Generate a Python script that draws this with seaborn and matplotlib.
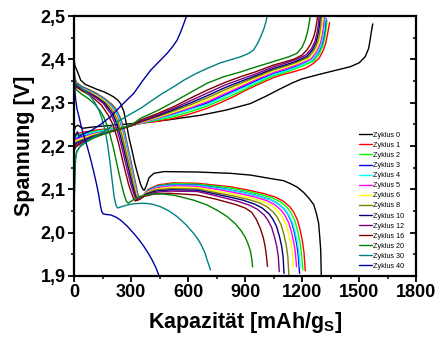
import numpy as np
import pandas as pd
import matplotlib
matplotlib.use("Agg")
import matplotlib.pyplot as plt
from matplotlib.ticker import MultipleLocator, FuncFormatter
import seaborn as sns

# ---------------- Zyklus 0 ----------------
ent_q_0 = [0, 5, 18, 35, 60, 88, 120, 158, 190, 210, 230, 245, 262, 276, 290, 305, 320, 335, 350, 362,
           370, 380, 395, 420, 473, 650, 823, 928, 1033, 1103, 1140, 1175, 1208, 1235, 1261, 1275, 1287,
           1293, 1298, 1301]
ent_u_0 = [2.40, 2.385, 2.372, 2.352, 2.342, 2.337, 2.331, 2.325, 2.318, 2.313, 2.306, 2.298, 2.28, 2.25,
           2.218, 2.19, 2.16, 2.135, 2.112, 2.1, 2.098, 2.108, 2.127, 2.137, 2.141, 2.14, 2.137, 2.133,
           2.125, 2.12, 2.113, 2.105, 2.093, 2.08, 2.065, 2.045, 2.022, 1.99, 1.96, 1.902]
lad_q_0 = [0, 8, 20, 45, 100, 150, 315, 490, 665, 800, 928, 1010, 1085, 1150, 1200, 1278, 1360, 1453,
           1500, 1532, 1550, 1558, 1565, 1572]
lad_u_0 = [2.235, 2.245, 2.248, 2.241, 2.244, 2.246, 2.252, 2.26, 2.271, 2.283, 2.298, 2.315, 2.332,
           2.346, 2.355, 2.364, 2.373, 2.383, 2.392, 2.406, 2.425, 2.445, 2.465, 2.482]

# ---------------- Zyklus 1 ----------------
ent_q_1 = [0, 3, 12, 40, 80, 120, 160, 200, 222, 247, 267, 282, 302, 322, 335, 345, 362, 390, 440, 520,
           648, 823, 920, 1000, 1060, 1100, 1135, 1155, 1175, 1190, 1202, 1210, 1217]
ent_u_1 = [2.395, 2.362, 2.347, 2.338, 2.330, 2.321, 2.310, 2.296, 2.285, 2.262, 2.232, 2.200, 2.160,
           2.118, 2.090, 2.078, 2.085, 2.100, 2.110, 2.115, 2.114, 2.106, 2.098, 2.090, 2.082, 2.073,
           2.060, 2.048, 2.030, 2.006, 1.980, 1.955, 1.912]
lad_q_1 = [0, 10, 50, 120, 200, 280, 350, 440, 525, 610, 700, 770, 840, 900, 963, 1050, 1100, 1160,
           1220, 1261, 1290, 1313, 1325, 1331, 1338, 1345]
lad_u_1 = [2.225, 2.228, 2.232, 2.237, 2.241, 2.245, 2.252, 2.257, 2.264, 2.274, 2.287, 2.3, 2.314,
           2.328, 2.341, 2.358, 2.365, 2.372, 2.38, 2.391, 2.403, 2.422, 2.438, 2.452, 2.468, 2.485]

# ---------------- Zyklus 2 ----------------
ent_q_2 = [0, 3, 12, 40, 80, 120, 160, 198, 220, 245, 265, 280, 300, 320, 333, 343, 360, 388, 438, 518,
           648, 810, 905, 985, 1045, 1087, 1122, 1142, 1162, 1177, 1189, 1197, 1204]
ent_u_2 = [2.39, 2.36, 2.345, 2.337, 2.329, 2.320, 2.309, 2.295, 2.284, 2.261, 2.231, 2.2, 2.16, 2.118,
           2.09, 2.078, 2.084, 2.098, 2.108, 2.113, 2.112, 2.104, 2.096, 2.088, 2.08, 2.071, 2.058,
           2.046, 2.028, 2.004, 1.978, 1.952, 1.914]
lad_q_2 = [0, 10, 45, 100, 170, 240, 280, 350, 440, 525, 610, 700, 790, 876, 960, 1050, 1110, 1170,
           1261, 1291, 1309, 1319, 1326, 1331]
lad_u_2 = [2.221, 2.224, 2.228, 2.233, 2.238, 2.242, 2.245, 2.252, 2.26, 2.268, 2.279, 2.292, 2.309,
           2.326, 2.344, 2.362, 2.37, 2.379, 2.396, 2.413, 2.43, 2.448, 2.468, 2.49]

# ---------------- Zyklus 3 ----------------
ent_q_3 = [0, 3, 12, 40, 80, 120, 160, 197, 219, 244, 264, 279, 299, 319, 332, 342, 359, 387, 437, 517,
           648, 795, 890, 970, 1030, 1070, 1105, 1125, 1145, 1160, 1172, 1180, 1187]
ent_u_3 = [2.385, 2.358, 2.344, 2.336, 2.328, 2.319, 2.308, 2.294, 2.283, 2.26, 2.23, 2.2, 2.16, 2.117,
           2.089, 2.077, 2.083, 2.097, 2.107, 2.111, 2.110, 2.101, 2.093, 2.085, 2.077, 2.068, 2.055,
           2.043, 2.025, 2.0, 1.974, 1.948, 1.906]
lad_q_3 = [0, 10, 45, 100, 170, 240, 280, 350, 440, 525, 610, 700, 790, 876, 960, 1050, 1110, 1170,
           1256, 1286, 1304, 1314, 1321, 1326]
lad_u_3 = [2.214, 2.218, 2.223, 2.23, 2.236, 2.241, 2.244, 2.253, 2.263, 2.274, 2.286, 2.299, 2.317,
           2.334, 2.351, 2.367, 2.375, 2.384, 2.399, 2.416, 2.434, 2.452, 2.472, 2.495]

# ---------------- Zyklus 4 ----------------
ent_q_4 = [0, 3, 12, 40, 80, 120, 160, 196, 218, 243, 263, 278, 298, 318, 331, 341, 358, 386, 436, 516,
           648, 797, 893, 973, 1033, 1073, 1108, 1128, 1148, 1163, 1175, 1183, 1190]
ent_u_4 = [2.38, 2.356, 2.343, 2.335, 2.327, 2.318, 2.307, 2.293, 2.282, 2.259, 2.229, 2.2, 2.16, 2.117,
           2.089, 2.077, 2.083, 2.096, 2.106, 2.110, 2.109, 2.100, 2.092, 2.084, 2.076, 2.067, 2.054,
           2.042, 2.025, 2.002, 1.978, 1.955, 1.92]
lad_q_4 = [0, 10, 45, 100, 170, 240, 280, 350, 440, 525, 610, 700, 790, 876, 960, 1050, 1110, 1170,
           1252, 1282, 1300, 1310, 1317, 1322]
lad_u_4 = [2.217, 2.221, 2.225, 2.231, 2.237, 2.242, 2.245, 2.253, 2.262, 2.272, 2.284, 2.296, 2.314,
           2.331, 2.348, 2.365, 2.373, 2.382, 2.398, 2.415, 2.433, 2.451, 2.471, 2.495]

# ---------------- Zyklus 5 ----------------
ent_q_5 = [0, 3, 12, 40, 80, 120, 160, 192, 214, 238, 258, 273, 294, 316, 330, 340, 357, 385, 435, 515,
           648, 780, 875, 955, 1015, 1055, 1090, 1110, 1130, 1145, 1157, 1165, 1171]
ent_u_5 = [2.38, 2.355, 2.342, 2.334, 2.326, 2.317, 2.305, 2.292, 2.28, 2.257, 2.228, 2.2, 2.16, 2.116,
           2.088, 2.077, 2.082, 2.095, 2.104, 2.108, 2.107, 2.098, 2.09, 2.082, 2.074, 2.065, 2.052,
           2.04, 2.023, 2.0, 1.976, 1.953, 1.921]
lad_q_5 = [0, 10, 45, 100, 170, 240, 280, 350, 440, 525, 610, 700, 790, 876, 960, 1050, 1110, 1170,
           1247, 1277, 1295, 1305, 1312, 1317]
lad_u_5 = [2.21, 2.215, 2.22, 2.228, 2.234, 2.241, 2.244, 2.253, 2.264, 2.276, 2.288, 2.302, 2.32,
           2.337, 2.354, 2.37, 2.378, 2.387, 2.401, 2.418, 2.436, 2.454, 2.474, 2.498]

# ---------------- Zyklus 6 ----------------
ent_q_6 = [0, 3, 12, 40, 80, 120, 160, 190, 212, 235, 255, 270, 291, 314, 328, 338, 355, 383, 433, 513,
           648, 765, 860, 940, 1000, 1040, 1075, 1095, 1115, 1130, 1142, 1150, 1155]
ent_u_6 = [2.38, 2.354, 2.341, 2.333, 2.325, 2.316, 2.304, 2.291, 2.279, 2.256, 2.227, 2.2, 2.16, 2.116,
           2.088, 2.076, 2.081, 2.093, 2.101, 2.105, 2.104, 2.095, 2.087, 2.079, 2.071, 2.062, 2.049,
           2.037, 2.02, 1.998, 1.975, 1.952, 1.92]
lad_q_6 = [0, 10, 45, 100, 170, 240, 280, 350, 440, 525, 610, 700, 790, 876, 960, 1050, 1110, 1170,
           1240, 1270, 1288, 1298, 1305, 1310]
lad_u_6 = [2.207, 2.212, 2.218, 2.226, 2.233, 2.24, 2.244, 2.254, 2.266, 2.278, 2.291, 2.306, 2.324,
           2.341, 2.357, 2.373, 2.381, 2.39, 2.403, 2.42, 2.437, 2.455, 2.475, 2.5]

# ---------------- Zyklus 8 ----------------
ent_q_8 = [0, 3, 12, 40, 80, 120, 160, 186, 208, 231, 251, 266, 288, 311, 326, 336, 353, 381, 431, 511,
           648, 740, 835, 915, 975, 1015, 1050, 1070, 1090, 1105, 1117, 1125, 1131]
ent_u_8 = [2.375, 2.352, 2.34, 2.332, 2.324, 2.314, 2.302, 2.29, 2.278, 2.255, 2.226, 2.2, 2.16, 2.115,
           2.087, 2.076, 2.08, 2.091, 2.099, 2.102, 2.101, 2.093, 2.085, 2.077, 2.069, 2.06, 2.047,
           2.035, 2.018, 1.995, 1.97, 1.945, 1.898]
lad_q_8 = [0, 10, 45, 100, 170, 240, 280, 350, 440, 525, 610, 700, 790, 876, 960, 1050, 1110, 1170,
           1233, 1263, 1281, 1291, 1298, 1303]
lad_u_8 = [2.203, 2.209, 2.215, 2.224, 2.232, 2.24, 2.244, 2.255, 2.268, 2.281, 2.295, 2.311, 2.329,
           2.345, 2.36, 2.376, 2.384, 2.393, 2.405, 2.421, 2.438, 2.456, 2.476, 2.5]

# ---------------- Zyklus 10 ----------------
ent_q_10 = [0, 3, 12, 40, 80, 120, 160, 180, 201, 223, 243, 258, 281, 305, 322, 333, 350, 378, 428, 508,
            648, 715, 810, 890, 950, 990, 1025, 1045, 1065, 1080, 1092, 1100, 1105]
ent_u_10 = [2.375, 2.35, 2.339, 2.331, 2.322, 2.312, 2.299, 2.288, 2.276, 2.254, 2.225, 2.2, 2.158,
            2.114, 2.086, 2.076, 2.079, 2.089, 2.096, 2.099, 2.098, 2.092, 2.083, 2.075, 2.066, 2.057,
            2.044, 2.032, 2.015, 1.993, 1.97, 1.945, 1.906]
lad_q_10 = [0, 10, 45, 100, 170, 240, 280, 350, 440, 525, 610, 700, 790, 876, 960, 1050, 1110, 1170,
            1226, 1256, 1274, 1284, 1291, 1296]
lad_u_10 = [2.2, 2.206, 2.213, 2.222, 2.231, 2.239, 2.244, 2.256, 2.27, 2.284, 2.299, 2.316, 2.334,
            2.349, 2.363, 2.379, 2.387, 2.396, 2.407, 2.423, 2.44, 2.458, 2.477, 2.5]

# ---------------- Zyklus 12 ----------------
ent_q_12 = [0, 3, 12, 40, 80, 120, 155, 172, 193, 215, 235, 250, 273, 298, 318, 330, 347, 375, 425, 505,
            648, 690, 785, 865, 925, 965, 1000, 1020, 1040, 1055, 1067, 1075, 1080]
ent_u_12 = [2.37, 2.348, 2.338, 2.33, 2.321, 2.31, 2.298, 2.287, 2.275, 2.253, 2.224, 2.2, 2.157, 2.113,
            2.085, 2.075, 2.078, 2.087, 2.093, 2.096, 2.095, 2.091, 2.081, 2.072, 2.063, 2.054, 2.041,
            2.029, 2.012, 1.99, 1.968, 1.945, 1.91]
lad_q_12 = [0, 10, 45, 100, 170, 240, 280, 350, 440, 525, 610, 700, 790, 876, 960, 1050, 1110, 1170,
            1220, 1250, 1268, 1278, 1285, 1290]
lad_u_12 = [2.195, 2.202, 2.21, 2.22, 2.23, 2.239, 2.244, 2.257, 2.272, 2.287, 2.304, 2.322, 2.34,
            2.354, 2.367, 2.383, 2.391, 2.4, 2.41, 2.425, 2.442, 2.46, 2.478, 2.5]

# ---------------- Zyklus 16 ----------------
ent_q_16 = [0, 3, 12, 40, 80, 115, 145, 162, 182, 204, 224, 238, 262, 288, 310, 322, 340, 370, 420, 500,
            648, 750, 850, 900, 935, 960, 980, 995, 1005, 1012, 1018]
ent_u_16 = [2.37, 2.345, 2.336, 2.328, 2.318, 2.306, 2.294, 2.283, 2.27, 2.25, 2.223, 2.2, 2.155, 2.11,
            2.082, 2.073, 2.076, 2.084, 2.089, 2.091, 2.087, 2.077, 2.065, 2.057, 2.047, 2.03, 2.01,
            1.99, 1.97, 1.948, 1.922]
lad_q_16 = [0, 10, 40, 90, 150, 210, 270, 300, 350, 440, 525, 610, 700, 790, 876, 960, 1050, 1100,
            1160, 1200, 1226, 1245, 1261, 1270, 1276, 1282]
lad_u_16 = [2.19, 2.198, 2.207, 2.217, 2.227, 2.235, 2.243, 2.247, 2.26, 2.275, 2.291, 2.31, 2.329,
            2.346, 2.36, 2.372, 2.387, 2.393, 2.401, 2.41, 2.422, 2.435, 2.452, 2.467, 2.483, 2.5]

# ---------------- Zyklus 20 ----------------
ent_q_20 = [0, 3, 12, 40, 80, 110, 135, 155, 172, 188, 205, 225, 245, 262, 275, 285, 305, 340, 400, 455,
            530, 630, 700, 760, 806, 850, 880, 900, 915, 928, 935, 940]
ent_u_20 = [2.365, 2.34, 2.33, 2.32, 2.308, 2.296, 2.283, 2.268, 2.25, 2.228, 2.2, 2.16, 2.12, 2.09,
            2.073, 2.068, 2.074, 2.083, 2.089, 2.09, 2.086, 2.075, 2.064, 2.05, 2.037, 2.02, 2.004,
            1.99, 1.975, 1.958, 1.94, 1.921]
lad_q_20 = [0, 4, 8, 14, 30, 60, 100, 140, 200, 260, 300, 350, 440, 525, 610, 700, 788, 876, 960, 1050,
            1086, 1130, 1173, 1200, 1217, 1228, 1236, 1243]
lad_u_20 = [2.05, 2.13, 2.17, 2.186, 2.198, 2.208, 2.218, 2.225, 2.235, 2.243, 2.248, 2.264, 2.282,
            2.302, 2.323, 2.345, 2.36, 2.371, 2.383, 2.395, 2.4, 2.406, 2.414, 2.428, 2.445, 2.462,
            2.48, 2.5]

# ---------------- Zyklus 30 ----------------
ent_q_30 = [0, 3, 9, 30, 60, 88, 110, 131, 145, 158, 168, 178, 190, 202, 212, 222, 230, 250, 280, 320,
            368, 410, 455, 500, 543, 590, 630, 655, 674, 690, 700, 710, 718]
ent_u_30 = [2.365, 2.35, 2.345, 2.337, 2.326, 2.314, 2.3, 2.283, 2.266, 2.245, 2.225, 2.2, 2.16, 2.115,
            2.08, 2.062, 2.057, 2.06, 2.064, 2.067, 2.068, 2.066, 2.06, 2.05, 2.037, 2.018, 1.998,
            1.983, 1.968, 1.952, 1.937, 1.925, 1.914]
lad_q_30 = [0, 4, 8, 14, 40, 80, 130, 180, 228, 290, 350, 403, 460, 525, 578, 640, 700, 770, 830, 876,
            920, 945, 965, 985, 1000, 1010, 1016]
lad_u_30 = [2.05, 2.13, 2.17, 2.188, 2.203, 2.215, 2.227, 2.24, 2.256, 2.272, 2.287, 2.303, 2.32,
            2.337, 2.352, 2.367, 2.379, 2.392, 2.4, 2.406, 2.414, 2.422, 2.436, 2.455, 2.472, 2.487, 2.5]

# ---------------- Zyklus 40 ----------------
ent_q_40 = [0, 2, 5, 9, 16, 26, 38, 53, 65, 75, 90, 105, 117, 128, 138, 146, 155, 170, 193, 220, 245,
            280, 315, 345, 368, 390, 411, 430, 446]
ent_u_40 = [2.375, 2.35, 2.325, 2.306, 2.285, 2.268, 2.245, 2.221, 2.205, 2.19, 2.165, 2.138, 2.115,
            2.092, 2.065, 2.048, 2.043, 2.042, 2.041, 2.036, 2.029, 2.015, 1.998, 1.982, 1.968, 1.953,
            1.937, 1.92, 1.902]
lad_q_40 = [0, 8, 18, 26, 40, 60, 88, 140, 193, 250, 315, 360, 403, 450, 490, 520, 543, 560, 578, 592]
lad_u_40 = [2.214, 2.225, 2.233, 2.222, 2.226, 2.23, 2.235, 2.25, 2.268, 2.294, 2.322, 2.35, 2.375,
            2.396, 2.414, 2.43, 2.445, 2.462, 2.483, 2.5]

zyklen = [0, 1, 2, 3, 4, 5, 6, 8, 10, 12, 16, 20, 30, 40]
farben = ["#000000", "#FF0000", "#00FF00", "#0000FF", "#00FFFF", "#FF00FF", "#FFFF00",
          "#808000", "#000080", "#800080", "#800000", "#008000", "#008080", "#0000A0"]

kurven = {
    0: (ent_q_0, ent_u_0, lad_q_0, lad_u_0),
    1: (ent_q_1, ent_u_1, lad_q_1, lad_u_1),
    2: (ent_q_2, ent_u_2, lad_q_2, lad_u_2),
    3: (ent_q_3, ent_u_3, lad_q_3, lad_u_3),
    4: (ent_q_4, ent_u_4, lad_q_4, lad_u_4),
    5: (ent_q_5, ent_u_5, lad_q_5, lad_u_5),
    6: (ent_q_6, ent_u_6, lad_q_6, lad_u_6),
    8: (ent_q_8, ent_u_8, lad_q_8, lad_u_8),
    10: (ent_q_10, ent_u_10, lad_q_10, lad_u_10),
    12: (ent_q_12, ent_u_12, lad_q_12, lad_u_12),
    16: (ent_q_16, ent_u_16, lad_q_16, lad_u_16),
    20: (ent_q_20, ent_u_20, lad_q_20, lad_u_20),
    30: (ent_q_30, ent_u_30, lad_q_30, lad_u_30),
    40: (ent_q_40, ent_u_40, lad_q_40, lad_u_40),
}

# long-form table: one row per measured point, charge and discharge as separate units
rows = []
for z in zyklen:
    eq, eu, lq, lu = kurven[z]
    name = f"Zyklus {z}"
    for q, u in zip(eq, eu):
        rows.append((name, f"{name} E", q, u))
    for q, u in zip(lq, lu):
        rows.append((name, f"{name} L", q, u))
df = pd.DataFrame(rows, columns=["zyklus", "kurve", "kapazitaet", "spannung"])

hue_order = [f"Zyklus {z}" for z in zyklen]
palette = dict(zip(hue_order, farben))

sns.set_style("ticks")
plt.rcParams["font.family"] = ["Liberation Sans", "DejaVu Sans"]
plt.rcParams["mathtext.fontset"] = "custom"
plt.rcParams["mathtext.rm"] = "Liberation Sans:bold"
plt.rcParams["mathtext.bf"] = "Liberation Sans:bold"
plt.rcParams["text.color"] = "black"
plt.rcParams["axes.labelcolor"] = "black"
plt.rcParams["xtick.color"] = "black"
plt.rcParams["ytick.color"] = "black"

fig = plt.figure(figsize=(4.38, 3.42), dpi=100)
ax = fig.add_axes([0.169, 0.193, 0.781, 0.760])

sns.lineplot(data=df, x="kapazitaet", y="spannung", hue="zyklus", units="kurve",
             estimator=None, sort=False, palette=palette, hue_order=hue_order,
             linewidth=1.0, ax=ax, legend=True)

ax.set_xlim(0, 1800)
ax.set_ylim(1.9, 2.5)
ax.xaxis.set_major_locator(MultipleLocator(300))
ax.xaxis.set_minor_locator(MultipleLocator(150))
ax.yaxis.set_major_locator(MultipleLocator(0.1))
ax.yaxis.set_minor_locator(MultipleLocator(0.05))
ax.yaxis.set_major_formatter(FuncFormatter(lambda v, p: f"{v:.1f}".replace(".", ",")))
ax.xaxis.set_major_formatter(FuncFormatter(lambda v, p: f"{v:.0f}"))

for s in ax.spines.values():
    s.set_linewidth(1.6)
    s.set_color("black")

ax.tick_params(axis="both", which="major", direction="out", length=4, width=1.3,
               labelsize=13, pad=2, colors="black", labelcolor="black")
ax.tick_params(axis="both", which="minor", direction="out", length=2.5, width=1.1, colors="black")
ax.tick_params(axis="y", which="both", right=True, labelright=False)
for lab in ax.get_xticklabels() + ax.get_yticklabels():
    lab.set_fontweight("bold")
    lab.set_color("black")

# right-hand mirror ticks point inward
for t in ax.yaxis.get_major_ticks() + ax.yaxis.get_minor_ticks():
    t.tick2line.set_marker(matplotlib.lines.TICKLEFT)

ax.set_xlabel(r"Kapazität [mAh/g$_\mathbf{S}$]", fontsize=15.5, fontweight="bold",
              labelpad=6, color="black")
ax.set_ylabel("Spannung [V]", fontsize=15.5, fontweight="bold", labelpad=4, color="black")

handles, labels = ax.get_legend_handles_labels()
leg = ax.legend(handles, labels, loc="upper left", bbox_to_anchor=(0.832, 0.555),
                frameon=False, fontsize=5.2, handlelength=1.9, handletextpad=0.15,
                labelspacing=0.42, borderaxespad=0, borderpad=0)
for h in leg.legend_handles:
    h.set_linewidth(1.0)
for t in leg.get_texts():
    t.set_color("black")

fig.savefig("out.png", dpi=100)
